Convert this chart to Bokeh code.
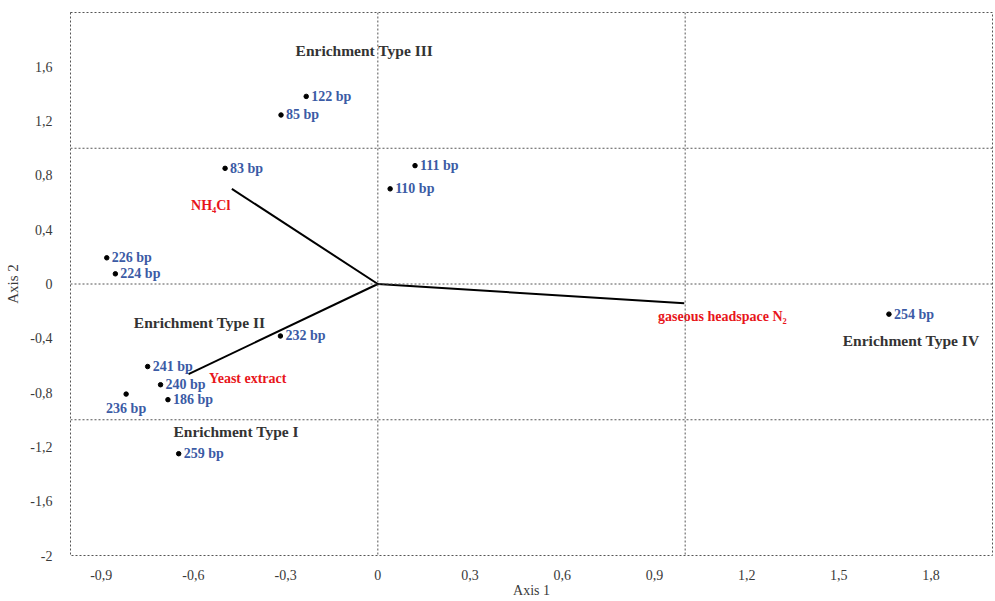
from bokeh.plotting import figure
from bokeh.models import ColumnDataSource, Span, FixedTicker
from bokeh.core.properties import value
from bokeh.embed import file_html
from bokeh.resources import INLINE

# ---- data ----
species = ["122 bp", "85 bp", "83 bp", "226 bp", "224 bp", "111 bp", "110 bp",
           "254 bp", "232 bp", "241 bp", "240 bp", "236 bp", "186 bp", "259 bp"]
axis1 = [-0.233, -0.315, -0.497, -0.882, -0.854, 0.121, 0.040,
         1.663, -0.317, -0.749, -0.707, -0.819, -0.683, -0.648]
axis2 = [1.382, 1.245, 0.852, 0.193, 0.075, 0.872, 0.701,
         -0.222, -0.383, -0.608, -0.742, -0.811, -0.852, -1.250]

variables = ["NH\u2084Cl", "Yeast extract", "gaseous headspace N\u2082"]
var_axis1 = [-0.475, -0.616, 0.997]
var_axis2 = [0.701, -0.664, -0.141]

groups = ["Enrichment Type I", "Enrichment Type II", "Enrichment Type III", "Enrichment Type IV"]

x_ticks = [-0.9, -0.6, -0.3, 0, 0.3, 0.6, 0.9, 1.2, 1.5, 1.8]
x_tick_labels = ["-0,9", "-0,6", "-0,3", "0", "0,3", "0,6", "0,9", "1,2", "1,5", "1,8"]
y_ticks = [-2, -1.6, -1.2, -0.8, -0.4, 0, 0.4, 0.8, 1.2, 1.6]
y_tick_labels = ["-2", "-1,6", "-1,2", "-0,8", "-0,4", "0", "0,4", "0,8", "1,2", "1,6"]

# annotation placement (data coordinates)
group_label_x = [-0.461, -0.58, -0.044, 1.735]
group_label_y = [-1.09, -0.286, 1.72, -0.418]
var_label_x = [-0.48, -0.549, 0.912]
var_label_y = [0.579, -0.696, -0.242]
var_label_align = ["right", "left", "left"]

FONT = "Liberation Serif"
BLUE = "#3b5ba5"
RED = "#e8151b"
DARK = "#333333"
GRID = "#555555"

p = figure(width=994, height=600, x_range=(-1.0, 2.0), y_range=(-2.0, 2.0),
           output_backend="svg", toolbar_location=None,
           min_border_left=70, min_border_right=2, min_border_top=12, min_border_bottom=42)
p.background_fill_color = "white"
p.border_fill_color = "white"
p.grid.visible = False
p.outline_line_color = GRID
p.outline_line_dash = "2 2"
p.outline_line_width = 1

for ax, ticks, labels in ((p.xaxis[0], x_ticks, x_tick_labels), (p.yaxis[0], y_ticks, y_tick_labels)):
    ax.ticker = FixedTicker(ticks=ticks)
    ax.major_label_overrides = {t: l for t, l in zip(ticks, labels)}
    ax.axis_line_color = None
    ax.major_tick_line_color = None
    ax.minor_tick_line_color = None
    ax.major_label_text_font = FONT
    ax.major_label_text_font_size = "14px"
    ax.major_label_text_color = "#3a3a3a"
    ax.axis_label_text_font = FONT
    ax.axis_label_text_font_size = "14px"
    ax.axis_label_text_font_style = "normal"
    ax.axis_label_text_color = "#3a3a3a"

p.xaxis.axis_label = "Axis 1"
p.xaxis.major_label_standoff = 8
p.xaxis.axis_label_standoff = 0
p.yaxis.axis_label = "Axis 2"
p.yaxis.major_label_standoff = 12
p.yaxis.axis_label_standoff = 6
p.yaxis.axis_label_text_font_size = "15px"

# reference lines
for loc in (0, 1):
    p.add_layout(Span(location=loc, dimension="height", line_color=GRID, line_dash="2 2", line_width=1))
for loc in (-1, 0, 1):
    p.add_layout(Span(location=loc, dimension="width", line_color=GRID, line_dash="2 2", line_width=1))

# vectors
for vx, vy in zip(var_axis1, var_axis2):
    p.line([0, vx], [0, vy], line_color="black", line_width=2)

# points
src = ColumnDataSource(dict(x=axis1, y=axis2, name=species))
p.scatter("x", "y", source=src, size=4.5, color="black")

normal = [i for i, s in enumerate(species) if s != "236 bp"]
below = [i for i, s in enumerate(species) if s == "236 bp"]
src_n = ColumnDataSource(dict(x=[axis1[i] for i in normal], y=[axis2[i] for i in normal],
                              t=[species[i] for i in normal]))
src_b = ColumnDataSource(dict(x=[axis1[i] for i in below], y=[axis2[i] for i in below],
                              t=[species[i] for i in below]))
p.text("x", "y", text="t", source=src_n, x_offset=5, text_align="left", text_baseline="middle",
       text_font=value(FONT), text_font_size="14px", text_font_style="bold", text_color=BLUE)
p.text("x", "y", text="t", source=src_b, x_offset=0, y_offset=14, text_align="center",
       text_baseline="middle", text_font=value(FONT), text_font_size="14px",
       text_font_style="bold", text_color=BLUE)

# variable labels
p.text(var_label_x, var_label_y, text=variables, text_align=var_label_align, text_baseline="middle",
       text_font=value(FONT), text_font_size="14px", text_font_style="bold", text_color=RED)

# group labels
p.text(group_label_x, group_label_y, text=groups, text_align="center", text_baseline="middle",
       text_font=value(FONT), text_font_size="15.5px", text_font_style="bold", text_color=DARK)

open("out.html", "w").write(file_html(p, INLINE))
